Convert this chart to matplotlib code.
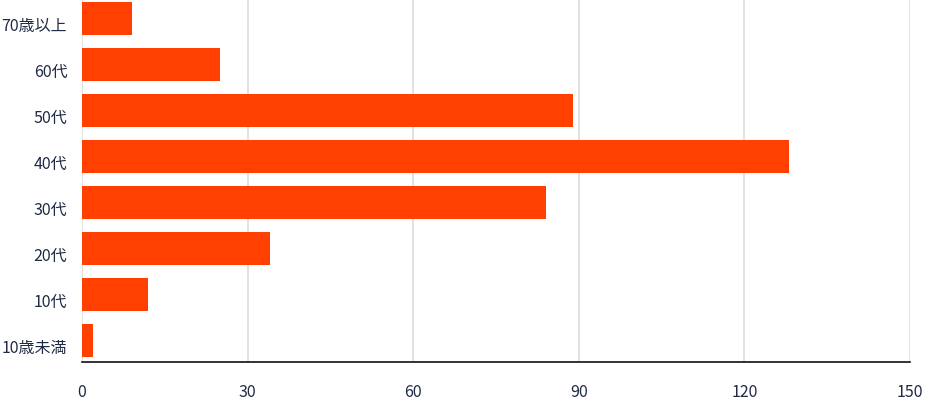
import matplotlib
matplotlib.use("Agg")
import matplotlib.pyplot as plt
import matplotlib.transforms as mtransforms

plt.rcParams['font.family'] = ['Noto Sans CJK JP', 'DejaVu Sans']

categories = ['10歳未満', '10代', '20代', '30代', '40代', '50代', '60代', '70歳以上']
values = [2, 12, 34, 84, 128, 89, 25, 9]
xticks = [0, 30, 60, 90, 120, 150]

text_color = '#1f2a44'

fig = plt.figure(figsize=(9.25, 4.01), dpi=100)
ax = fig.add_axes([0.0886, 0.0973, 0.8952, 0.914])

ax.barh(range(len(categories)), values, height=0.72, color='#ff4000', zorder=3)

ax.set_xlim(0, 150)
ax.set_ylim(-0.47, len(categories) - 0.5)
ax.set_xticks(xticks)
ax.set_yticks(range(len(categories)))
ax.set_yticklabels(categories)

ax.grid(axis='x', color='#dddddd', linewidth=1.2, zorder=0)
ax.grid(axis='y', visible=False)
for side in ['top', 'right', 'left']:
    ax.spines[side].set_visible(False)
ax.spines['bottom'].set_color('#111111')
ax.spines['bottom'].set_linewidth(1.2)
ax.spines['bottom'].set_zorder(4)

ax.tick_params(axis='x', length=0, pad=16, labelsize=11.5, labelcolor=text_color)
ax.tick_params(axis='y', length=0, pad=10.5, labelsize=11.5, labelcolor=text_color)

# labels sit a little below the bar centres in the original
shift = mtransforms.ScaledTranslation(0, -6 / 100, fig.dpi_scale_trans)
for lbl in ax.get_yticklabels():
    lbl.set_transform(lbl.get_transform() + shift)

fig.savefig('out.png', dpi=100)
